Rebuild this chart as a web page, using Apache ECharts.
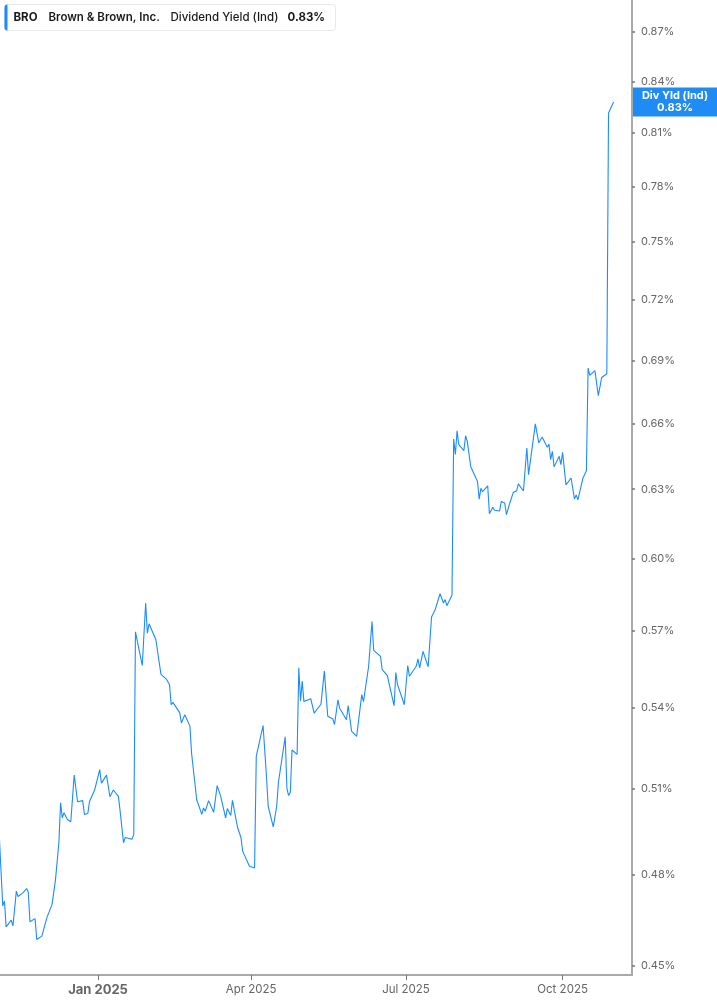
<!DOCTYPE html>
<html>
<head>
<meta charset="utf-8">
<script src="https://cdn.jsdelivr.net/npm/echarts@6/dist/echarts.min.js"></script>
<style>
  html, body { margin: 0; padding: 0; background: #fff; }
  #chart { width: 717px; height: 1005px; }
</style>
</head>
<body>
<div id="chart"></div>
<script>
// BRO dividend yield (ind), percent
const dates = [
  '2024-11-04','2024-11-06','2024-11-07','2024-11-08','2024-11-11','2024-11-12','2024-11-14','2024-11-15',
  '2024-11-18','2024-11-20','2024-11-21','2024-11-22','2024-11-25','2024-11-26','2024-11-29','2024-12-02',
  '2024-12-05','2024-12-07','2024-12-09','2024-12-10','2024-12-11','2024-12-12','2024-12-14','2024-12-16',
  '2024-12-18','2024-12-20','2024-12-23','2024-12-24','2024-12-26','2024-12-27','2024-12-30','2024-12-31',
  '2025-01-02','2025-01-03','2025-01-06','2025-01-07','2025-01-08','2025-01-10','2025-01-13','2025-01-14',
  '2025-01-15','2025-01-16','2025-01-17','2025-01-21','2025-01-22','2025-01-23','2025-01-27','2025-01-29',
  '2025-01-30','2025-01-31','2025-02-04','2025-02-07','2025-02-10','2025-02-11','2025-02-12','2025-02-13',
  '2025-02-14','2025-02-18','2025-02-19','2025-02-21','2025-02-24','2025-02-25','2025-02-26','2025-02-28',
  '2025-03-03','2025-03-04','2025-03-05','2025-03-07','2025-03-10','2025-03-12','2025-03-14','2025-03-17',
  '2025-03-18','2025-03-20','2025-03-21','2025-03-24','2025-03-26','2025-03-27','2025-03-28','2025-03-31',
  '2025-04-01','2025-04-03','2025-04-04','2025-04-08','2025-04-09','2025-04-10','2025-04-11','2025-04-14',
  '2025-04-16','2025-04-17','2025-04-21','2025-04-22','2025-04-23','2025-04-24','2025-04-25','2025-04-28',
  '2025-04-29','2025-04-30','2025-05-01','2025-05-02','2025-05-06','2025-05-08','2025-05-12','2025-05-14',
  '2025-05-16','2025-05-19','2025-05-20','2025-05-22','2025-05-23','2025-05-27','2025-05-28','2025-05-30',
  '2025-06-02','2025-06-05','2025-06-06','2025-06-09','2025-06-11','2025-06-12','2025-06-16','2025-06-17',
  '2025-06-20','2025-06-24','2025-06-25','2025-06-26','2025-06-30','2025-07-02','2025-07-03','2025-07-07',
  '2025-07-08','2025-07-09','2025-07-11','2025-07-14','2025-07-16','2025-07-18','2025-07-21','2025-07-23',
  '2025-07-24','2025-07-25','2025-07-28','2025-07-29','2025-07-30','2025-07-31','2025-08-01','2025-08-04',
  '2025-08-05','2025-08-06','2025-08-08','2025-08-12','2025-08-13','2025-08-14','2025-08-15','2025-08-18',
  '2025-08-19','2025-08-21','2025-08-22','2025-08-25','2025-08-26','2025-08-28','2025-08-29','2025-08-31',
  '2025-09-02','2025-09-04','2025-09-05','2025-09-08','2025-09-10','2025-09-11','2025-09-15','2025-09-16',
  '2025-09-17','2025-09-19','2025-09-22','2025-09-23','2025-09-24','2025-09-25','2025-09-26','2025-09-29',
  '2025-09-30','2025-10-01','2025-10-03','2025-10-06','2025-10-08','2025-10-09','2025-10-10','2025-10-13',
  '2025-10-14','2025-10-15','2025-10-16','2025-10-17','2025-10-20','2025-10-22','2025-10-24','2025-10-27',
  '2025-10-28','2025-10-29','2025-10-31'
];
const yieldValues = [
  0.4932,0.4695,0.4711,0.4626,0.4648,0.4629,0.4744,0.4726,
  0.4739,0.4753,0.4741,0.4643,0.4653,0.4585,0.4596,0.4657,
  0.4700,0.4782,0.4909,0.5049,0.4996,0.5014,0.4990,0.4982,
  0.5149,0.5053,0.5057,0.5008,0.5011,0.5054,0.5095,0.5099,
  0.5169,0.5120,0.5149,0.5144,0.5071,0.5095,0.5072,0.5019,
  0.5016,0.4909,0.4927,0.4921,0.4938,0.5697,0.5563,0.5814,
  0.5691,0.5729,0.5665,0.5528,0.5511,0.5515,0.5489,0.5411,
  0.5420,0.5381,0.5342,0.5373,0.5330,0.5228,0.5225,0.5060,
  0.5008,0.5031,0.5019,0.5057,0.5016,0.5111,0.5075,0.4996,
  0.5029,0.5004,0.5058,0.4962,0.4927,0.4880,0.4874,0.4828,
  0.4833,0.4822,0.5218,0.5332,0.5336,0.5144,0.5037,0.4964,
  0.5037,0.5122,0.5290,0.5101,0.5075,0.5087,0.5241,0.5225,
  0.5554,0.5425,0.5502,0.5423,0.5434,0.5379,0.5413,0.5541,
  0.5367,0.5357,0.5336,0.5430,0.5398,0.5354,0.5408,0.5311,
  0.5292,0.5450,0.5423,0.5558,0.5738,0.5623,0.5599,0.5547,
  0.5524,0.5407,0.5535,0.5489,0.5411,0.5563,0.5521,0.5560,
  0.5589,0.5554,0.5619,0.5558,0.5757,0.5784,0.5852,0.5814,
  0.5828,0.5803,0.5846,0.6527,0.6456,0.6565,0.6501,0.6474,
  0.6542,0.6516,0.6402,0.6334,0.6256,0.6304,0.6289,0.6315,
  0.6192,0.6220,0.6207,0.6204,0.6246,0.6239,0.6188,0.6239,
  0.6285,0.6293,0.6324,0.6292,0.6486,0.6365,0.6597,0.6592,
  0.6509,0.6536,0.6489,0.6504,0.6433,0.6471,0.6400,0.6448,
  0.6410,0.6466,0.6319,0.6350,0.6256,0.6275,0.6253,0.6350,
  0.6342,0.6383,0.6862,0.6827,0.6850,0.6730,0.6817,0.6835,
  0.8215,0.8205,0.8280
];
const yTicks = [0.45, 0.48, 0.51, 0.54, 0.57, 0.60, 0.63, 0.66, 0.69, 0.72, 0.75, 0.78, 0.81, 0.84, 0.87];
const xTickDates = ['2025-01-01', '2025-04-01', '2025-07-01', '2025-10-01'];
const monthNames = ['Jan','Feb','Mar','Apr','May','Jun','Jul','Aug','Sep','Oct','Nov','Dec'];

const lineColor = '#1a8cff';
const axisColor = '#a9a9a9';
const font = 'Inter, "Noto Sans", sans-serif';

const DAY = 86400000;
const xMin = Date.parse('2025-01-01') - 57.6 * DAY;
const xMax = Date.parse('2025-01-01') + 313.8 * DAY;
// the chart is on a log scale, so plot ln(yield)
const yMin = Math.log(0.44715);
const yMax = Math.log(0.88975);

const seriesData = dates.map((d, i) => [Date.parse(d), Math.log(yieldValues[i])]);
const lastVal = yieldValues[yieldValues.length - 1];

const chart = echarts.init(document.getElementById('chart'), null, { renderer: 'canvas' });

chart.setOption({
  animation: false,
  backgroundColor: '#fff',
  textStyle: { fontFamily: font },
  grid: { left: 0, right: 85, top: 0, bottom: 30 },
  xAxis: {
    type: 'value',
    min: xMin,
    max: xMax,
    splitLine: { show: false },
    axisLine: { show: true, lineStyle: { color: axisColor, width: 2 } },
    axisTick: {
      show: true, length: 5, lineStyle: { color: '#777', width: 1 },
      customValues: xTickDates.map(d => Date.parse(d))
    },
    axisLabel: {
      margin: 9,
      customValues: xTickDates.map(d => Date.parse(d)),
      formatter: v => {
        const dt = new Date(v);
        const txt = monthNames[dt.getUTCMonth()] + ' ' + dt.getUTCFullYear();
        return dt.getUTCMonth() === 0 ? '{b|' + txt + '}' : '{n|' + txt + '}';
      },
      rich: {
        b: { fontFamily: font, fontSize: 13, fontWeight: 'bold', color: '#666' },
        n: { fontFamily: font, fontSize: 11.5, color: '#666' }
      }
    }
  },
  yAxis: {
    type: 'value',
    position: 'right',
    min: yMin,
    max: yMax,
    splitLine: { show: false },
    axisLine: { show: true, lineStyle: { color: axisColor, width: 2 } },
    axisTick: {
      show: true, length: 3, lineStyle: { color: '#777', width: 1.5 },
      customValues: yTicks.map(v => Math.log(v))
    },
    axisLabel: {
      margin: 9,
      fontFamily: font,
      fontSize: 11,
      color: '#666',
      customValues: yTicks.map(v => Math.log(v)),
      formatter: v => Math.exp(v).toFixed(2) + '%'
    }
  },
  series: [{
    type: 'line',
    data: seriesData,
    showSymbol: false,
    clip: true,
    lineStyle: { color: lineColor, width: 1.1 },
    itemStyle: { color: lineColor }
  }]
});

// legend box and the last value tag on the axis
const tagY = chart.convertToPixel({ yAxisIndex: 0 }, Math.log(lastVal));
chart.setOption({
  graphic: [
    {
      type: 'group', left: 4, top: 4,
      children: [
        { type: 'rect', shape: { x: 0, y: 0, width: 331, height: 26, r: 3 },
          style: { fill: '#fff', stroke: '#e8e8e8', lineWidth: 1 } },
        { type: 'rect', shape: { x: 0, y: 0, width: 3, height: 26, r: [3, 0, 0, 3] },
          style: { fill: lineColor } },
        { type: 'text', x: 9, y: 13, style: { text: 'BRO', font: 'bold 11.5px ' + font, fill: '#1a1a1a', verticalAlign: 'middle' } },
        { type: 'text', x: 44, y: 13, style: { text: 'Brown & Brown, Inc.', font: '600 11.5px ' + font, fill: '#1a1a1a', verticalAlign: 'middle' } },
        { type: 'text', x: 166, y: 13, style: { text: 'Dividend Yield (Ind)', font: '500 11.5px ' + font, fill: '#1a1a1a', verticalAlign: 'middle' } },
        { type: 'text', x: 283, y: 13, style: { text: (lastVal).toFixed(2) + '%', font: 'bold 11.5px ' + font, fill: '#1a1a1a', verticalAlign: 'middle' } }
      ]
    },
    {
      type: 'group', x: 633, y: tagY - 14.5,
      children: [
        { type: 'rect', shape: { x: 0, y: 0, width: 84, height: 29 }, style: { fill: '#1f8cf5' } },
        { type: 'text', x: 42, y: 8, style: { text: 'Div Yld (Ind)', font: 'bold 11px ' + font, fill: '#fff', align: 'center', verticalAlign: 'middle' } },
        { type: 'text', x: 42, y: 20.5, style: { text: lastVal.toFixed(2) + '%', font: 'bold 11px ' + font, fill: '#fff', align: 'center', verticalAlign: 'middle' } }
      ]
    }
  ]
});
</script>
</body>
</html>
